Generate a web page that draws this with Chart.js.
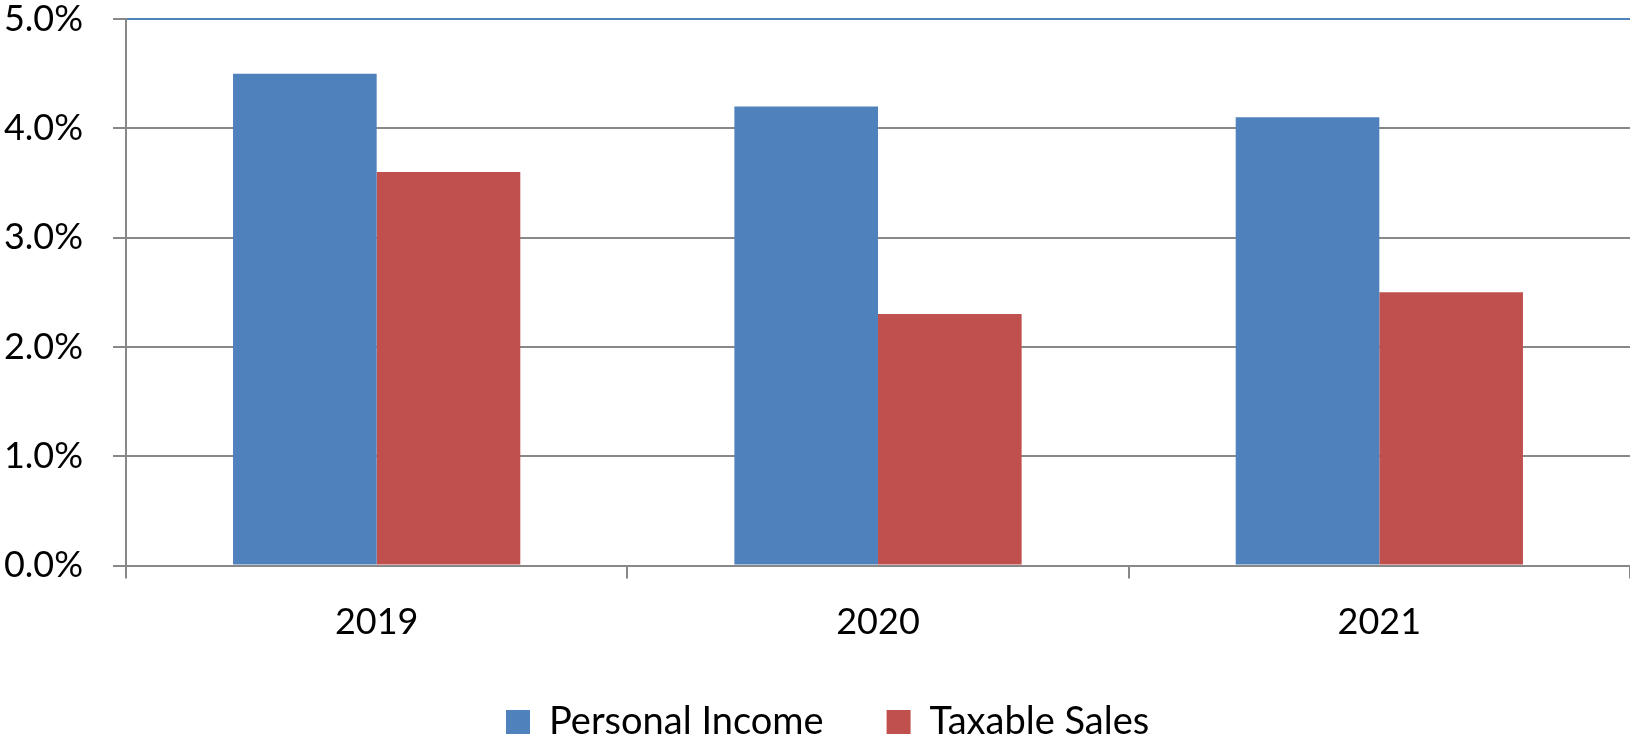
<!DOCTYPE html>
<html>
<head>
<meta charset="utf-8">
<script src="https://cdn.jsdelivr.net/npm/chart.js@4/dist/chart.umd.min.js"></script>
<style>
  html, body { margin: 0; padding: 0; background: #ffffff; }
  #wrap { width: 1630px; height: 739px; }
</style>
</head>
<body>
<div id="wrap"><canvas id="c" width="1630" height="739"></canvas></div>
<script>
const categories = ['2019', '2020', '2021'];
const personalIncome = [4.5, 4.2, 4.1];
const taxableSales = [3.6, 2.3, 2.5];
const seriesNames = ['Personal Income', 'Taxable Sales'];
const yTicks = [0, 1, 2, 3, 4, 5];

const BLUE = '#4f81bd';
const RED = '#c0504d';
const GRID = '#888888';
const FONT = 'Lato';

const legendPlace = {
  id: 'legendPlace',
  afterLayout(chart) {
    const lg = chart.legend;
    if (!lg) return;
    const w = lg.right - lg.left;
    lg.left = 443; lg.right = lg.left + w; lg.width = w;
    lg.top = 640; lg.bottom = 739; lg.height = 99;
  }
};

new Chart(document.getElementById('c'), {
  type: 'bar',
  data: {
    labels: categories,
    datasets: [
      { label: seriesNames[0], data: personalIncome, backgroundColor: BLUE, borderWidth: 0 },
      { label: seriesNames[1], data: taxableSales, backgroundColor: RED, borderWidth: 0 }
    ]
  },
  options: {
    responsive: false,
    devicePixelRatio: 1,
    animation: false,
    categoryPercentage: 0.573,
    barPercentage: 1.0,
    layout: { padding: { top: 0, right: 0, bottom: 0, left: 0 } },
    plugins: {
      tooltip: { enabled: false },
      legend: {
        position: 'bottom',
        align: 'start',
        maxHeight: 1,
        labels: {
          boxWidth: 24,
          boxHeight: 24,
          padding: 63,
          color: '#000000',
          font: { family: FONT, size: 38 }
        }
      }
    },
    scales: {
      x: {
        offset: true,
        grid: {
          display: true,
          offset: true,
          drawOnChartArea: false,
          drawTicks: true,
          tickLength: 13,
          color: GRID,
          lineWidth: 2
        },
        border: { display: true, color: GRID, width: 2 },
        ticks: {
          color: '#000000',
          padding: 22,
          maxRotation: 0,
          font: { family: FONT, size: 36 }
        },
        afterFit(scale) {
          const lg = scale.chart.legend;
          const lh = lg && lg.height ? lg.height : 1;
          scale.height = 739 - 565.5 - lh;
        }
      },
      y: {
        min: 0,
        max: 5,
        afterBuildTicks(scale) { scale.ticks = yTicks.map(v => ({ value: v })); },
        grid: {
          color: (ctx) => (ctx.tick && ctx.tick.value === 5 ? BLUE : GRID),
          tickColor: GRID,
          lineWidth: 2,
          tickLength: 13,
          drawTicks: true
        },
        border: { display: true, color: GRID, width: 2 },
        ticks: {
          color: '#000000',
          padding: 30,
          font: { family: FONT, size: 36 },
          callback: (v) => Number(v).toFixed(1) + '%'
        },
        afterFit(scale) {
          scale.width = 126;
          scale.paddingTop = 19;
          scale.paddingBottom = 0;
        }
      }
    }
  },
  plugins: [legendPlace]
});
</script>
</body>
</html>
